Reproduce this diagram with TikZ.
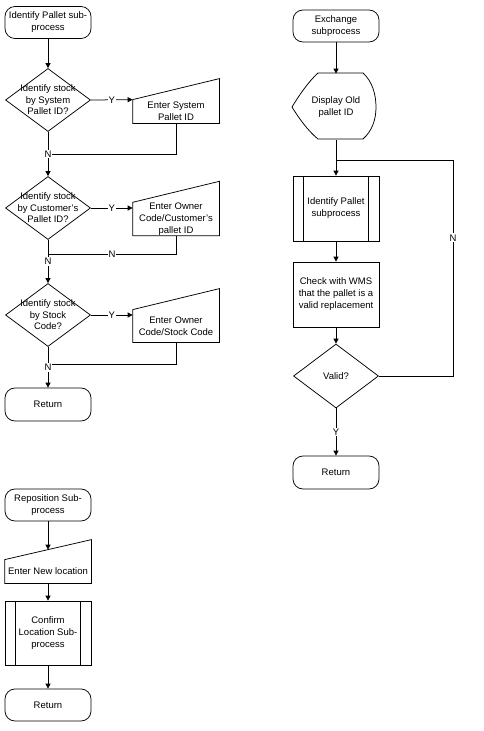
\documentclass[tikz,border=0pt]{standalone}
\usepackage{fontspec}
\setmainfont{Liberation Sans}
\usetikzlibrary{shapes.geometric, arrows.meta, calc}
\newcommand{\manualoutline}[2]{\draw (#1.north west) -- (#1.south west) -- (#1.south east) -- ([yshift=#2]#1.north east) -- cycle;}
\begin{document}
\begin{tikzpicture}[x=1pt, y=-1pt, line width=0.75pt,
  every node/.style={font=\fontsize{9.5}{12}\selectfont, align=center},
  term/.style={draw, rectangle, rounded corners=10pt, minimum width=86pt, inner sep=0pt},
  decision/.style={draw, diamond, minimum width=85pt, minimum height=63pt, inner sep=0pt},
  dtext/.style={font=\fontsize{9.5}{11.5}\selectfont},
  proc/.style={draw, rectangle, minimum width=86pt, inner sep=0pt},
  predef/.style={proc, path picture={
      \draw ([xshift=10.5pt]path picture bounding box.north west) -- ([xshift=10.5pt]path picture bounding box.south west)
            ([xshift=-10.5pt]path picture bounding box.north east) -- ([xshift=-10.5pt]path picture bounding box.south east);}},
  manual/.style={rectangle, minimum width=86pt, inner sep=0pt},
  arr/.style={-{Triangle[length=5pt,width=5pt]}},
  lbl/.style={fill=white, inner sep=1pt},
]
\useasboundingbox (0,0) rectangle (483,731);

% ---------- Identify Pallet sub-process ----------
\node[term, minimum height=32pt] (t1) at (48,22.5) {Identify Pallet sub-\\process};
\node[decision, label={[dtext]center:{Identify stock\\by System\\Pallet ID?}}] (d1) at (48,100) {};
\node[manual, minimum height=23pt] (m1) at (176,111.5) {Enter System\\Pallet ID};
\manualoutline{m1}{21pt}
\coordinate (j1) at (48,154);
\node[decision, label={[dtext]center:{Identify stock\\by Customer's\\Pallet ID?}}] (d2) at (48,208) {};
\node[manual, minimum height=32pt] (m2) at (176,219) {Enter Owner\\Code/Customer's\\pallet ID};
\manualoutline{m2}{21pt}
\coordinate (j2) at (48,254);
\node[decision, label={[dtext]center:{Identify stock\\by Stock\\Code?}}] (d3) at (48,315) {};
\node[manual, minimum height=32pt] (m3) at (176,326) {Enter Owner\\Code/Stock Code};
\manualoutline{m3}{21pt}
\coordinate (j3) at (48,364);
\node[term, minimum height=33pt] (r1) at (48,404.5) {Return};

\draw[arr] (t1) -- (d1);
\draw[arr] (d1.east) -- node[lbl]{Y} (m1.north west);
\draw (m1.south) |- (j1);
\draw[arr] (d1.south) -- node[lbl]{N} (d2.north);
\draw[arr] (d2.east) -- node[lbl]{Y} (d2.east -| m2.west);
\draw (m2.south) |- node[lbl, pos=0.75]{N} (j2);
\draw[arr] (d2.south) -- node[lbl]{N} (d3.north);
\draw[arr] (d3.east) -- node[lbl]{Y} (d3.east -| m3.west);
\draw (m3.south) |- (j3);
\draw[arr] (d3.south) -- node[lbl]{N} (r1.north);

% ---------- Exchange subprocess ----------
\node[term, minimum height=32pt] (t2) at (336,26) {Exchange\\subprocess};
\node[rectangle, minimum width=86pt, minimum height=66pt, inner sep=0pt] (dsp) at (336,107) {Display Old\\pallet ID};
\draw[shift={(dsp.center)}] (-18,-34) -- (27,-34) .. controls (36,-26) and (40,-13) .. (40,0)
   .. controls (40,13) and (36,24) .. (27,32) -- (-18,32) .. controls (-28,24) and (-38,10) .. (-44,0)
   .. controls (-38,-10) and (-28,-25) .. (-18,-34) -- cycle;
\coordinate (jr) at (336,160);
\node[predef, minimum height=65pt] (p1) at (336,208.5) {Identify Pallet\\subprocess};
\node[proc, minimum height=65pt] (c1) at (336,294.5) {Check with WMS\\that the pallet is a\\valid replacement};
\node[decision, minimum height=64pt, label={[dtext]center:{Valid?}}] (d4) at (336,376) {};
\node[term, minimum height=33pt] (r2) at (336,472.5) {Return};
\coordinate (lp) at (453,160);

\draw[arr] (t2) -- (dsp);
\draw (dsp.south) -- (jr);
\draw[arr] (jr) -- (p1);
\draw[arr] (p1) -- (c1);
\draw[arr] (c1) -- (d4);
\draw[arr] (d4) -- node[lbl]{Y} (r2);
\draw (d4.east) -| node[lbl, pos=0.82]{N} (lp) -- (jr);

% ---------- Reposition Sub-process ----------
\node[term, minimum height=32pt] (t3) at (48,505) {Reposition Sub-\\process};
\node[manual, minimum height=23pt] (m4) at (48,571.5) {Enter New location};
\manualoutline{m4}{20pt}
\coordinate (m4top) at ($(m4.north west)!0.5!([yshift=20pt]m4.north east)$);
\node[predef, minimum height=64pt] (p2) at (48,633) {Confirm\\Location Sub-\\process};
\node[term, minimum height=32pt] (r3) at (48,705) {Return};

\draw[arr] (t3) -- (m4top);
\draw[arr] (m4) -- (p2);
\draw[arr] (p2) -- (r3);
\end{tikzpicture}
\end{document}
